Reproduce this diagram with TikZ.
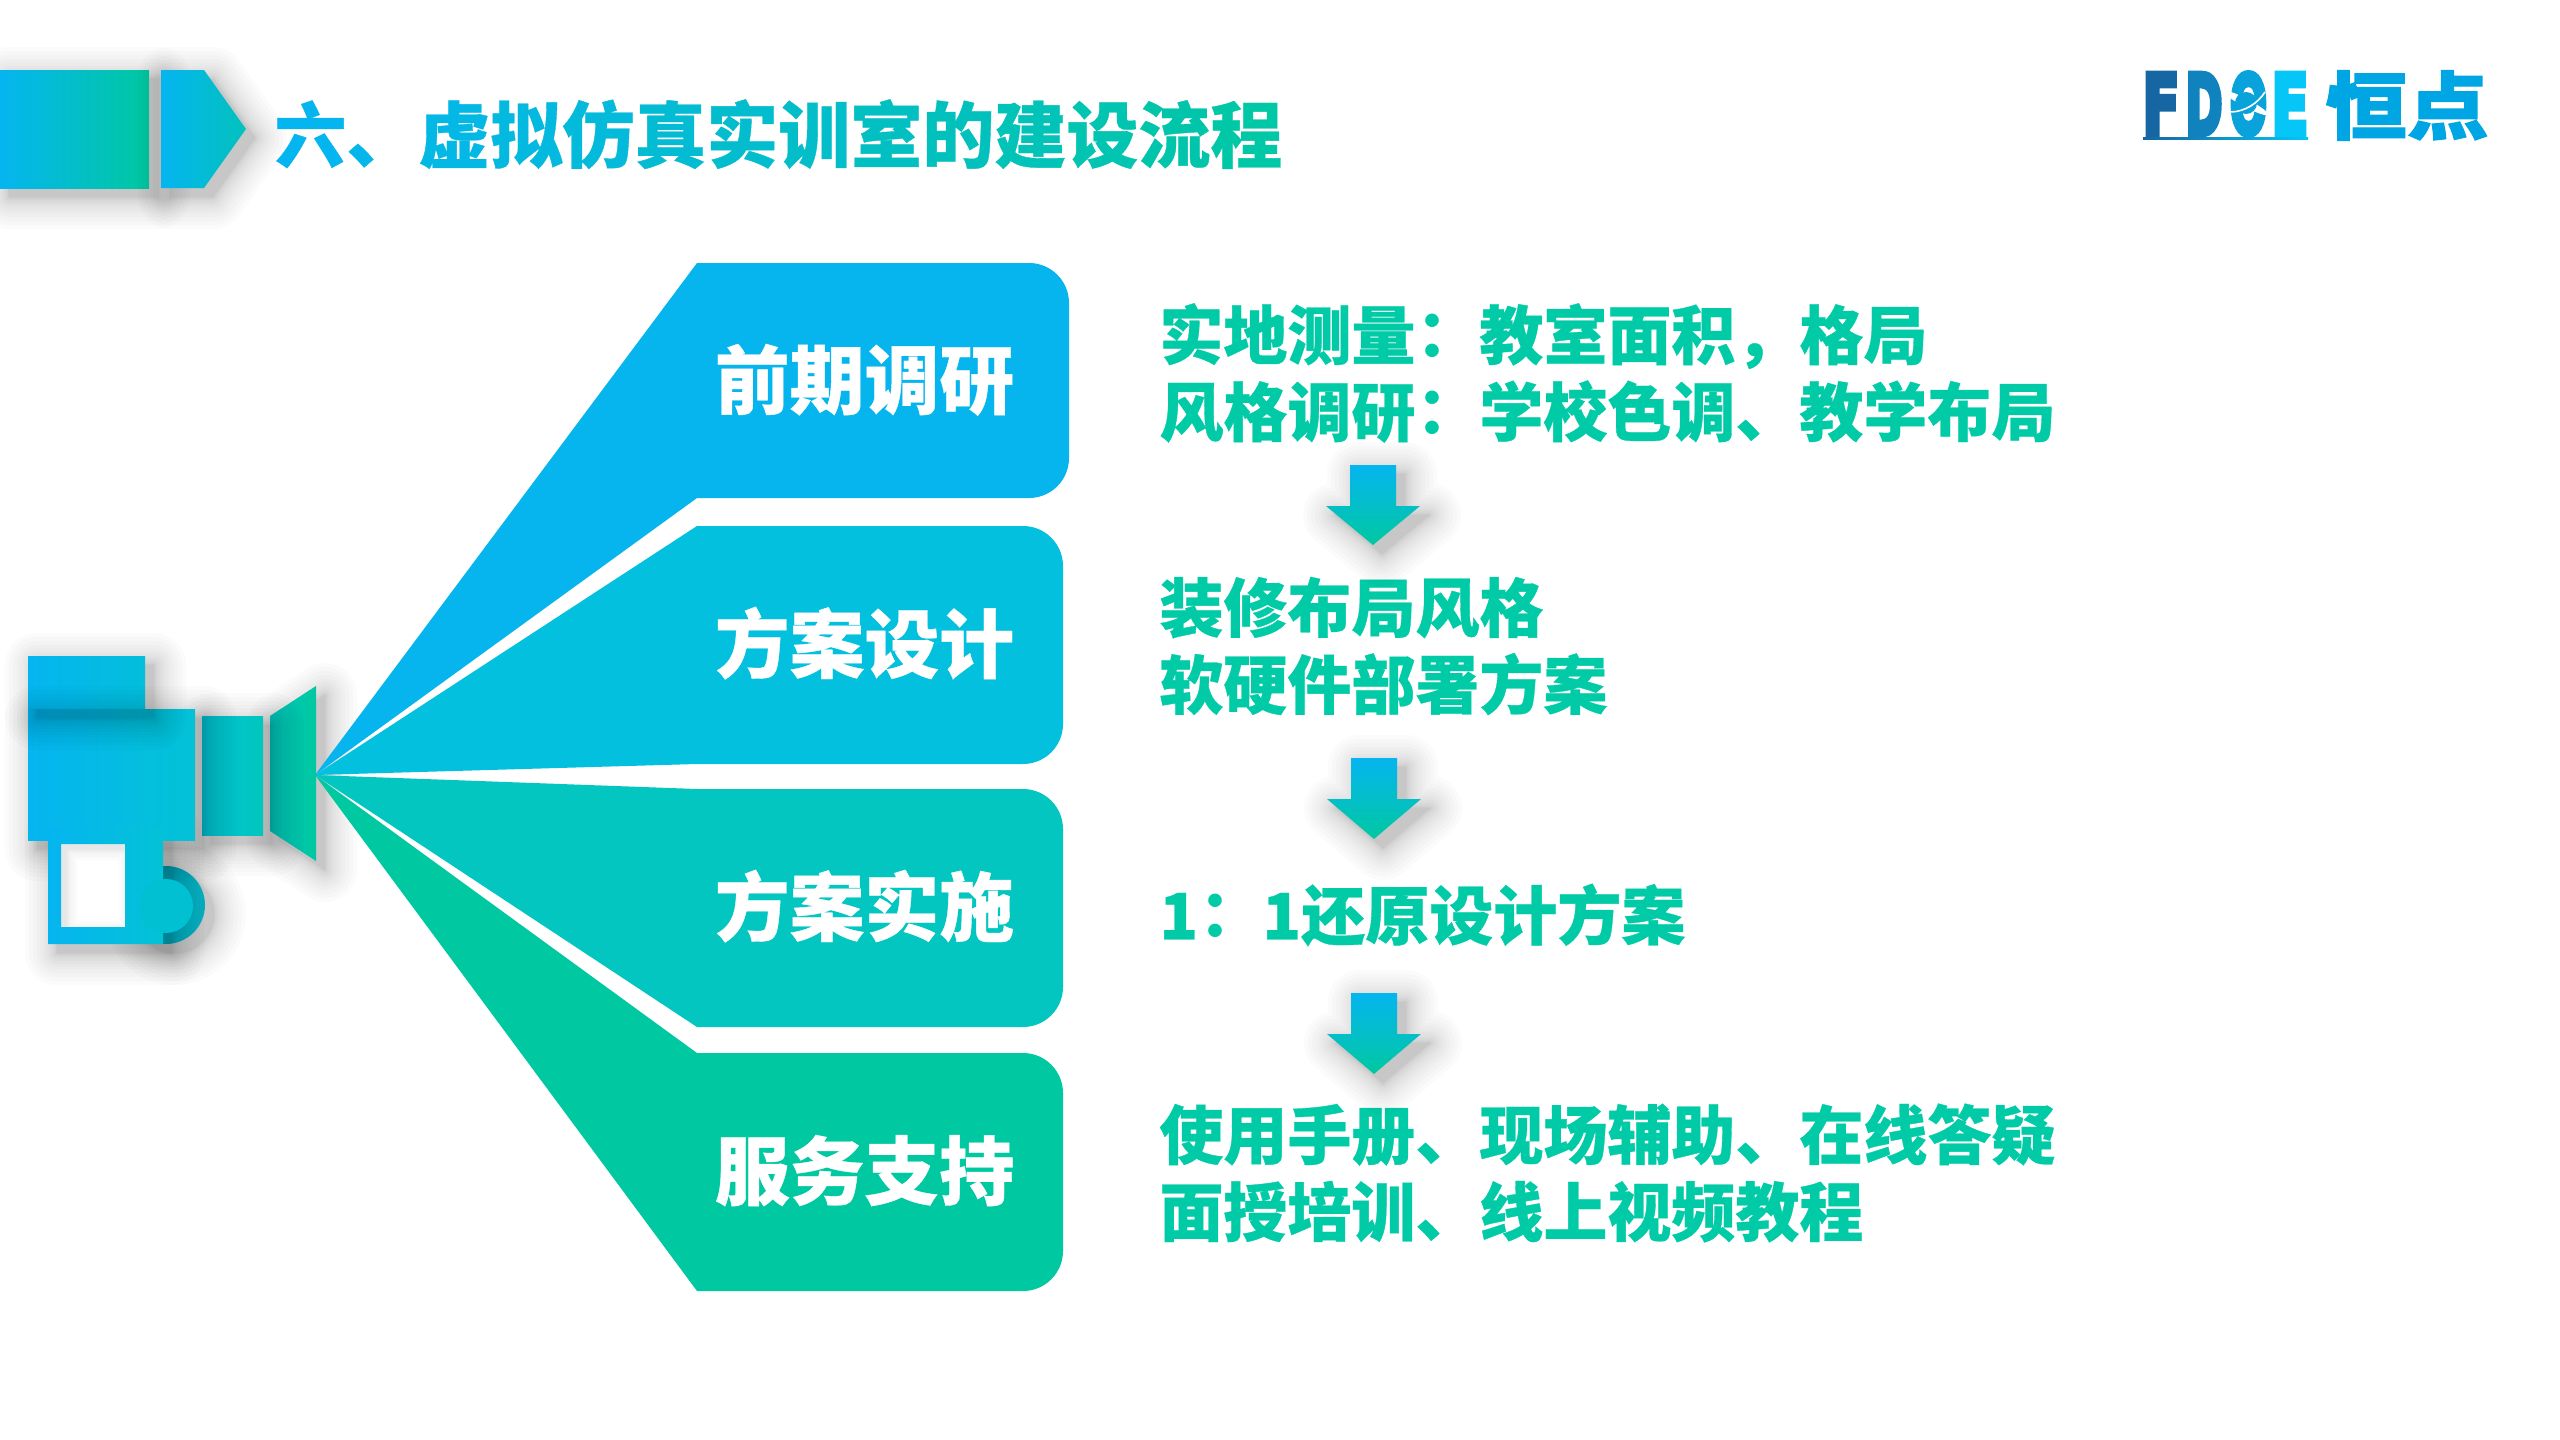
\documentclass[tikz,border=0pt]{standalone}
\usepackage{fontspec}
\usepackage{graphicx}
\setmainfont{Noto Sans CJK SC}[BoldFeatures={FakeBold=0.5}]
\newfontfamily\logofont{DejaVu Sans}[BoldFeatures={FakeBold=7}]
\newfontfamily\logocjk{Noto Sans CJK SC}[BoldFeatures={FakeBold=1.5}]
\newfontfamily\colonfont{Noto Sans CJK TC}
\newcommand{\cn}{\hspace*{-7.5pt}{\colonfont\bfseries ：}\hspace*{7.5pt}}
\definecolor{gs}{HTML}{05B5F0}
\definecolor{ge}{HTML}{00C8A0}
\definecolor{txtgreen}{HTML}{00CBA6}
\definecolor{boxa}{HTML}{06B5EE}
\definecolor{boxb}{HTML}{03C0DE}
\definecolor{boxc}{HTML}{03C6C0}
\definecolor{boxd}{HTML}{00C8A0}
\definecolor{mida}{HTML}{03C2D6}
\definecolor{midb}{HTML}{01C6BC}
\definecolor{midc}{HTML}{03BEDC}
\definecolor{ringc}{HTML}{06AEBE}
\definecolor{innerc}{HTML}{00C0D2}
\definecolor{lf}{HTML}{1566A2}
\definecolor{ld}{HTML}{1082BE}
\definecolor{lo}{HTML}{0AA2DA}
\definecolor{le}{HTML}{05C6F6}
\definecolor{logoblue}{HTML}{00A6E3}
\newcommand{\tc}[2]{\textcolor{gs!#1!ge}{#2}}
% soft shadow: stacked translucent copies of a path, each one grown a little further
\newcommand{\softsh}[1]{%
  \foreach \grow in {0.2,0.7,1.5,2.7,4.2,6,8.2,10.7,13.5,16.7,20,24,28,32}{%
    \begin{scope}[transparency group,opacity=0.017,shift={(9,9)}]
      \path[fill=black,draw=black,line width=\grow pt,line join=round] #1;
    \end{scope}}}
\newcommand{\softshin}[1]{%
  \foreach \grow in {0.5,1.5,3,5,8,11}{%
    \begin{scope}[transparency group,opacity=0.014,shift={(5,5)}]
      \path[even odd rule,fill=black,draw=black,line width=\grow pt,line join=round] #1;
    \end{scope}}}
\tikzset{
  banner/.style={left color=gs,right color=ge},
  downarrow/.style={top color=gs,bottom color=ge},
  boxlabel/.style={anchor=base,inner sep=0,text=white,font=\fontsize{37.4}{40}\selectfont\bfseries},
  desc/.style={anchor=west,inner sep=0,align=left,text=txtgreen,font=\fontsize{32}{38.5}\selectfont\bfseries},
  logoletter/.style={inner sep=0,font=\logofont\fontsize{40}{40}\selectfont\bfseries},
}
\begin{document}
\begin{tikzpicture}[x=0.5pt,y=-0.5pt]
\useasboundingbox (0,0) rectangle (2560,1440);
\fill[white] (0,0) rectangle (2560,1440);
% banner
\softsh{(0,70) rectangle (149,188)}
\path[banner] (0,70) rectangle (149,188);
\softsh{(161,70) -- (204,70) -- (246,129) -- (204,188) -- (161,188) -- cycle}
\path[left color=gs,right color=gs!35!ge] (161,70) -- (204,70) -- (246,129) -- (204,188) -- (161,188) -- cycle;
\node[anchor=base west,inner sep=0,font=\fontsize{36}{40}\selectfont\bfseries] (title) at (274,162)
 {\tc{100}{六}\tc{93}{、}\tc{86}{虚}\tc{79}{拟}\tc{72}{仿}\tc{65}{真}\tc{58}{实}\tc{50}{训}\tc{43}{室}\tc{36}{的}\tc{29}{建}\tc{21}{设}\tc{14}{流}\tc{7}{程}};
% logo
\node[logoletter,text=lf] (lgF) at (2161,104) {\resizebox{18.5pt}{30.5pt}{F}};
\node[logoletter,text=ld] (lgD) at (2204,104) {\resizebox{18.5pt}{30.5pt}{D}};
\node[logoletter,text=lo] (lgO) at (2248.5,104) {\resizebox{18.5pt}{30.5pt}{O}};
\node[logoletter,text=le] (lgE) at (2290,104) {\resizebox{18.5pt}{30.5pt}{E}};
\fill[white,rotate around={-28:(2246,103)}] (2246,103) ellipse (25 and 4);
\fill[lo] (2246,103) circle (11);
\draw[white,line width=0.8pt] (2230,112) .. controls (2245,112) and (2258,103) .. (2265,92);
\path[left color=lf,right color=le] (2143,137) rectangle (2308,139.5);
\node[inner sep=0,text=logoblue,font=\logocjk\fontsize{40.8}{42}\selectfont\bfseries] (lgcn) at (2407,105.5) {\resizebox{81.5pt}{31.5pt}{恒点}};
% camera
\softsh{(270,716) -- (316,686) -- (316,861) -- (270,831) -- cycle}
\path[left color=midb,right color=ge] (270,716) -- (316,686) -- (316,861) -- (270,831) -- cycle;
\softsh{(202,716) rectangle (263,835)}
\path[left color=mida,right color=midb] (202,716) rectangle (263,835);
\softsh{(166,905) circle (39)}
\path[fill=ringc] (166,905) circle (39);
\softsh{(28,656) rectangle (145,709)}
\path[left color=gs,right color=midc] (28,656) rectangle (145,709);
\softsh{(48,827) rectangle (163,944)}
\softsh{(28,709) rectangle (195,840)}
\path[left color=gs,right color=mida] (28,709) rectangle (195,840);
\begin{scope}
  \clip (28,709) rectangle (195,840);
  \softsh{(28,656) rectangle (145,709)}
\end{scope}
\fill[white] (61,844) rectangle (125,927);
\begin{scope}
  \clip (61,844) rectangle (125,927);
  \softshin{(48,827) rectangle (163,944) (61,844) rectangle (125,927)}
\end{scope}
\path[even odd rule,left color=gs,right color=mida] (48,827) rectangle (163,944) (61,844) rectangle (125,927);
\path[fill=innerc] (166,906) circle (27);
% wedges
\coordinate (apex) at (315,775);
\path[fill=boxa] (apex) -- (697,263) [rounded corners=20pt] -- (1069,263) -- (1069,498) [sharp corners] -- (697,498) -- cycle;
\path[fill=boxb] (apex) -- (697,526) [rounded corners=20pt] -- (1063,526) -- (1063,764) [sharp corners] -- (697,764) -- cycle;
\path[fill=boxc] (apex) -- (697,789) [rounded corners=20pt] -- (1063,789) -- (1063,1027) [sharp corners] -- (697,1027) -- cycle;
\path[fill=boxd] (apex) -- (697,1053) [rounded corners=20pt] -- (1063,1053) -- (1063,1291) [sharp corners] -- (697,1291) -- cycle;
\node[boxlabel] (la) at (864.5,408) {前期调研};
\node[boxlabel] (lb) at (864.5,672) {方案设计};
\node[boxlabel] (lc) at (864.5,935) {方案实施};
\node[boxlabel] (ld) at (864.5,1199) {服务支持};
% descriptions
\node[desc] (d1) at (1159,373) {实地测量\cn 教室面积，格局\\风格调研\cn 学校色调、教学布局};
\node[desc] (d2) at (1159,646) {装修布局风格\\软硬件部署方案};
\node[desc] (d3) at (1159,915) {1\cn 1还原设计方案};
\node[desc] (d4) at (1159,1173) {使用手册、现场辅助、在线答疑\\面授培训、线上视频教程};
% arrows
\softsh{(1350,465) -- (1396,465) -- (1396,506) -- (1420,506) -- (1373,545) -- (1326,506) -- (1350,506) -- cycle}
\path[downarrow] (1350,465) -- (1396,465) -- (1396,506) -- (1420,506) -- (1373,545) -- (1326,506) -- (1350,506) -- cycle;
\softsh{(1351,758) -- (1397,758) -- (1397,799) -- (1421,799) -- (1374,839) -- (1327,799) -- (1351,799) -- cycle}
\path[downarrow] (1351,758) -- (1397,758) -- (1397,799) -- (1421,799) -- (1374,839) -- (1327,799) -- (1351,799) -- cycle;
\softsh{(1351,993) -- (1397,993) -- (1397,1034) -- (1421,1034) -- (1374,1074) -- (1327,1034) -- (1351,1034) -- cycle}
\path[downarrow] (1351,993) -- (1397,993) -- (1397,1034) -- (1421,1034) -- (1374,1074) -- (1327,1034) -- (1351,1034) -- cycle;
\end{tikzpicture}
\end{document}
